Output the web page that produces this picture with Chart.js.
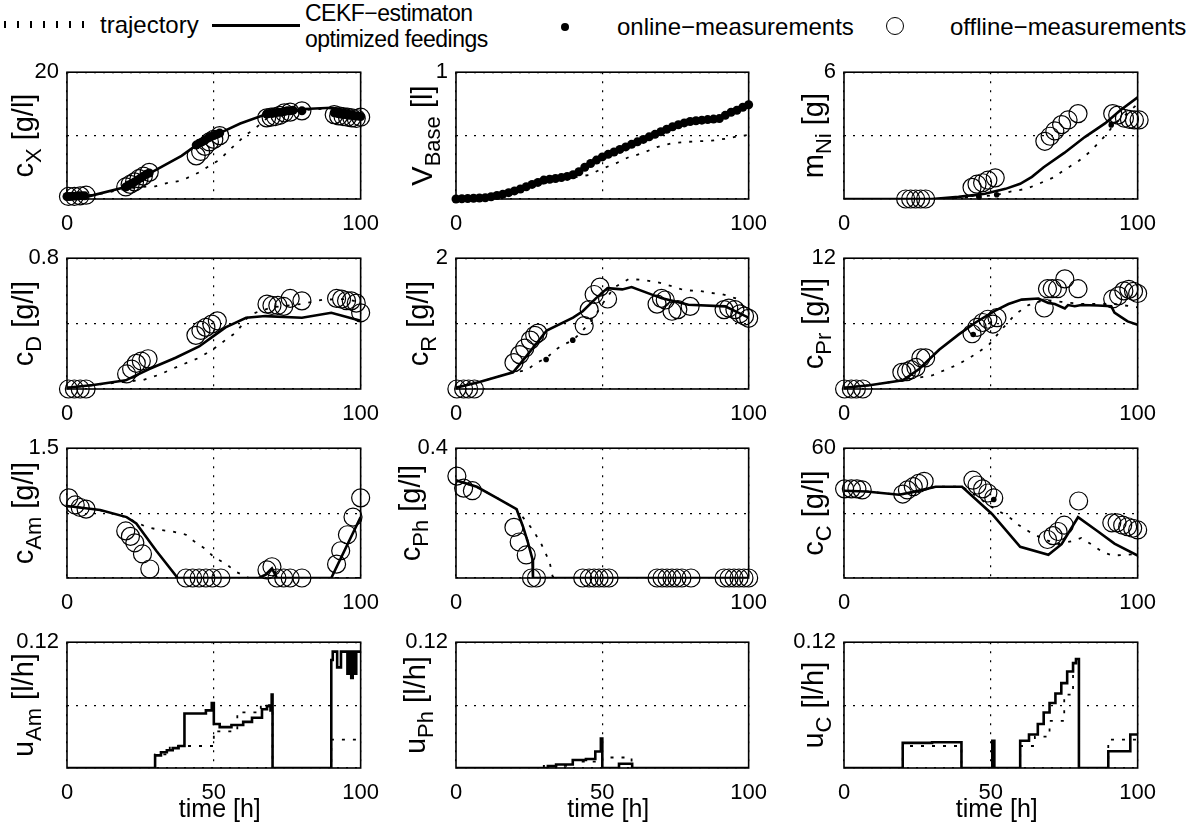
<!DOCTYPE html>
<html lang="en">
<head>
<meta charset="UTF-8">
<title>CEKF estimation and optimized feedings</title>
<script src="https://cdn.jsdelivr.net/npm/chart.js"></script>
<style>
    body { margin: 0; background: #fff; font-family: "Liberation Sans", Arial, sans-serif; }
    #fig { position: relative; width: 1204px; height: 826px; overflow: hidden; background: #fff; }
    .leg { position: absolute; font-size: 23px; line-height: 1; color: #000; white-space: nowrap; }
    canvas { position: absolute; }
</style>
</head>
<body>
<div id="fig">
    <div class="leg" style="left:4px;top:21px;width:86px;height:7px;background:repeating-linear-gradient(90deg,#000 0 2px,transparent 2px 13px)"></div>
    <div class="leg" style="left:100px;top:13px;font-size:24px">trajectory</div>
    <div class="leg" style="left:212px;top:24px;width:88px;height:3px;background:#000"></div>
    <div class="leg" style="left:305px;top:2px;letter-spacing:-0.5px">CEKF−estimaton</div>
    <div class="leg" style="left:305px;top:28px;letter-spacing:-0.5px">optimized feedings</div>
    <div class="leg" style="left:561px;top:23px;width:8px;height:8px;border-radius:50%;background:#000"></div>
    <div class="leg" style="left:617px;top:15px;font-size:24px">online−measurements</div>
    <div class="leg" style="left:886px;top:17px;width:16px;height:16px;border-radius:50%;border:1.3px solid #000"></div>
    <div class="leg" style="left:950px;top:15px;font-size:24px">offline−measurements</div>
</div>

<script>
    const FONT = '"Liberation Sans", Arial, sans-serif';

    // ---- data: [time h, value] ----
    const cxTraj = [[0,0.4],[10,0.7],[20,1.6],[25,1.9],[30,2.0],[34,2.5],[39,2.9],[45,4.2],[48,5.1],[52,6.2],[55,7.6],[58.6,9.1],[60,9.8],[64,11.1],[68,12.7],[72,13.3],[80,14.0],[90,14.3],[100,13.6]];
    const cxEst = [[0,0.4],[8,0.5],[20,1.9],[30,4.5],[39,6.8],[45,8.8],[52,10.4],[59,11.9],[68,13.4],[75,13.9],[81,14.2],[90,14.4],[95,14.0],[100,13.4]];
    const cxOnline = [[0,0.4],[1,0.4],[2,0.45],[3,0.45],[4,0.5],[5,0.5],[6,0.5],
        [20,1.9],[21,2.2],[22,2.4],[23,2.7],[24,3.0],[25,3.3],[26,3.6],[27,3.9],[28,4.1],
        [44,8.5],[45,8.8],[46,9.0],[47,9.3],[48,9.6],[49,9.8],[50,10.0],[51,10.2],[52,10.4],
        [68,13.4],[69,13.5],[70,13.5],[71,13.6],[72,13.7],[73,13.7],[74,13.8],[75,13.9],[76,13.9],[77,14.0],[80,13.9],
        [91,13.6],[92,13.5],[93,13.4],[94,13.3],[95,13.3],[96,13.2],[97,13.2],[98,13.1],[99,13.1],[100,13.0]];
    const cxOffline = [[0.5,0.4],[2.5,0.4],[4.5,0.5],[6.5,0.6],[20,1.9],[21.5,2.3],[23,2.7],[24.5,3.2],[26,3.6],[28,4.2],
        [44,6.8],[45.5,7.5],[47,8.3],[48.5,9.0],[50,9.4],[52,10.0],[68,12.8],[69.5,12.9],[71,13.0],[72.5,13.2],[74,13.6],[76,13.7],[80,13.9],
        [91,13.3],[92.5,13.1],[94,13.0],[95.5,12.9],[97,12.8],[98.5,12.7],[100,12.9]];

    const vbTraj = [[0,0],[10,0.01],[20,0.06],[26,0.10],[31,0.13],[35,0.15],[40,0.17],[45.5,0.19],[50,0.24],[54.6,0.28],[59,0.33],[63.6,0.36],[68.7,0.41],[73.8,0.44],[78.3,0.45],[82.8,0.455],[87.3,0.46],[92,0.475],[96.4,0.495],[100,0.505]];
    const vbOnline = [[0,0],[2,0.002],[4,0.004],[6,0.006],[8,0.008],[10,0.01],[12,0.018],[14,0.028],[16,0.038],[18,0.05],
        [20,0.064],[22,0.079],[24,0.097],[26,0.115],[28,0.131],[30,0.149],[32,0.156],[34,0.162],[36,0.169],[38,0.178],
        [40,0.191],[42,0.215],[44,0.25],[46,0.28],[48,0.307],[50,0.332],[52,0.352],[54,0.371],[56,0.391],[58,0.411],
        [60,0.431],[62,0.451],[64,0.47],[66,0.49],[68,0.51],[70,0.53],[72,0.55],[74,0.57],[76,0.586],[78,0.6],
        [80,0.611],[82,0.617],[84,0.622],[86,0.626],[88,0.63],[90,0.634],[92,0.66],[94,0.684],[96,0.70],[98,0.724],[100,0.743]];

    const niTraj = [[0,0],[30,0],[40,0.05],[46,0.12],[51.5,0.18],[57,0.36],[62,0.48],[66,0.7],[71,1.0],[75,1.37],[80,1.81],[84,2.26],[89,3.0],[92,3.52],[96,4.0],[100,4.5]];
    const niEst = [[0,0],[30,0],[39,0.1],[48,0.25],[55,0.48],[60,0.72],[64,1.05],[68,1.5],[75,2.18],[82,2.93],[89,3.59],[94,4.19],[100,4.81]];
    const niOnline = [[46,0.1],[52,0.2],[91,3.5]];
    const niOffline = [[21,0],[22.7,0],[24.4,0],[26.1,0],[27.8,0],[43.6,0.55],[45.3,0.7],[47.2,0.77],[49,0.89],[51.5,1.0],
        [68.4,2.73],[70.2,2.97],[71.8,3.22],[74.1,3.52],[76.3,3.74],[79.7,4.04],[91.5,4.04],[93.2,3.97],[95.5,3.82],[97.2,3.77],[98.9,3.74],[100.5,3.74]];

    const cdTraj = [[0,0.008],[9,0.024],[20,0.045],[26,0.055],[31.5,0.088],[38.3,0.142],[45,0.191],[49.5,0.24],[54,0.3],[57.4,0.344],[60,0.4],[62,0.45],[65,0.472],[70,0.5],[80,0.52],[87,0.546],[95,0.55],[100,0.53]];
    const cdEst = [[0,0.008],[9,0.024],[20,0.053],[28,0.122],[37,0.191],[45,0.26],[49.5,0.319],[54,0.377],[61,0.436],[67.6,0.446],[80,0.436],[90,0.466],[100,0.417]];
    const cdOffline = [[0.5,0],[2.5,0],[4.5,0],[6.5,0],[20.3,0.092],[22,0.122],[23.6,0.157],[25.3,0.171],[27.6,0.185],
        [43.9,0.328],[45.6,0.358],[47.3,0.377],[49.3,0.397],[51.2,0.417],[68.1,0.519],[69.8,0.511],[71.8,0.511],[73.8,0.505],[76,0.554],[80,0.539],
        [91.8,0.554],[93.5,0.55],[95.2,0.54],[96.8,0.539],[98.5,0.525],[100,0.466]];

    const crTraj = [[0,0.02],[8,0.108],[19.5,0.256],[24,0.285],[27.5,0.4],[31,0.477],[34,0.6],[36.5,0.673],[40,0.747],[43.3,0.894],[47.2,1.091],[50,1.3],[54,1.55],[59,1.68],[63.6,1.67],[69,1.63],[74,1.57],[78,1.51],[83,1.5],[87,1.47],[91,1.45],[96,1.38],[100,1.165]];
    const crEst = [[0,0.02],[8,0.108],[19.5,0.256],[24,0.5],[31,0.894],[40,1.091],[43.3,1.189],[47.8,1.386],[51.8,1.543],[56.8,1.523],[60,1.558],[70.4,1.386],[79.4,1.287],[92,1.263],[100,1.091]];
    const crOnline = [[30.8,0.452],[39.9,0.747]];
    const crOffline = [[0.3,0],[2.6,0],[4.3,0],[6.3,0],[19.8,0.403],[21.8,0.526],[23.5,0.624],[25.4,0.747],[26.9,0.821],[28,0.855],
        [43.8,0.968],[45.5,1.214],[47.2,1.445],[49.2,1.558],[51.8,1.376],[68.7,1.297],[70.2,1.386],[71.5,1.361],[73.8,1.189],[75.8,1.214],[80,1.263],
        [91.6,1.214],[93.2,1.238],[95.3,1.214],[97,1.15],[98.6,1.115],[100,1.081]];

    const cpTraj = [[0,0.12],[8.7,0.35],[20,0.8],[30,1.24],[34.6,1.77],[39,2.27],[43.6,3.0],[49.3,4.04],[53.8,5.5],[58.3,6.84],[62.8,7.7],[68.4,8.17],[74,8.0],[80.8,7.8],[92,7.8],[100,7.5]];
    const cpEst = [[0,0.12],[8.7,0.35],[20,0.8],[25.6,1.83],[32.4,3.6],[39.1,5.01],[44.8,6.1],[51.5,7.2],[56,7.8],[60.5,8.2],[66.2,8.3],[69.6,7.9],[71.8,7.8],[75.2,7.4],[76.3,7.7],[78.6,7.6],[80.8,7.7],[86.5,7.66],[91,7.6],[92.1,7.0],[94.4,6.6],[96.6,6.2],[100,5.9]];
    const cpOnline = [[44,5.0]];
    const cpOffline = [[0.2,0],[2.5,0],[4.2,0],[6.4,0],[19.7,1.53],[21.3,1.59],[22.8,1.77],[24.5,1.98],[26.2,2.86],[27.8,2.86],
        [43.6,5.07],[45.3,5.66],[47.2,6.1],[49,6.4],[50.7,5.96],[52.1,6.54],[68.2,7.43],[69.3,9.2],[70.9,9.2],[72.7,9.2],[75.2,10.1],[79.7,9.2],
        [91.5,8.26],[93.5,8.55],[95.3,9.0],[97,9.14],[98.6,8.96],[100,8.76]];

    const caTraj = [[0,0.833],[11,0.785],[20,0.704],[27,0.59],[31.5,0.556],[36,0.537],[40.5,0.5],[43.9,0.407],[47.3,0.333],[50,0.241],[54,0.167],[57.4,0.074],[60.8,0.02],[62,0],[100,0]];
    const caEst = [[0,0.833],[11.3,0.785],[20.3,0.704],[23.6,0.63],[30.4,0.315],[37.7,0],[65.3,0],[67.6,0.037],[69.8,0.111],[71.5,0],[90,0],[100,0.704]];
    const caOffline = [[0.6,0.926],[2.8,0.844],[4.5,0.815],[6.5,0.796],[20,0.544],[21.6,0.481],[23.1,0.407],[25.7,0.278],[28.2,0.104],
        [40.5,0],[42.8,0],[45,0],[47.3,0],[49.5,0],[52.4,0],[68.1,0.093],[69.8,0.13],[71.5,0],[73.8,0],[76,0],[80,0],
        [91.8,0.16],[93.2,0.315],[95.5,0.5],[97.4,0.704],[100,0.926]];

    const cphTraj = [[0,0.301],[7,0.281],[14,0.247],[20.7,0.212],[26.3,0.148],[29.2,0.104],[32,0.049],[33,0.005],[34,0],[100,0]];
    const cphEst = [[0,0.301],[7.1,0.281],[13.9,0.247],[20.7,0.212],[22.9,0.158],[24.6,0.109],[26.1,0.059],[26.3,0],[100,0]];
    const cphOffline = [[0.3,0.314],[2.6,0.277],[5.6,0.269],[19.8,0.156],[21.6,0.111],[24,0.071],[25.8,0],[27.5,0],
        [43.3,0],[45.5,0],[47.2,0],[48.9,0],[50.6,0],[52.3,0],[68.7,0],[70.4,0],[72.1,0],[73.8,0],[75.5,0],[77.2,0],[80.3,0],
        [91.6,0],[93.3,0],[95,0],[96.7,0],[98.4,0],[100,0]];

    const ccTraj = [[0,40.3],[7.6,40],[18.8,38.5],[23.3,39.7],[31.2,42.2],[40.2,42.2],[45,38],[50,33],[56.3,28.1],[59.6,24.4],[63.9,20.7],[68,18],[72.9,15.6],[77.5,17],[80.8,18.5],[84.2,15.6],[88.2,11.9],[91.5,10.4],[96,10.7],[100,11.1]];
    const ccEst = [[0,40.3],[7.6,40],[18.8,38.5],[23.3,39.7],[31.2,42.2],[40.2,42.2],[50.4,29.6],[60,14.4],[69.6,10.7],[74.1,15.6],[79.7,28.1],[86.5,21.5],[92.1,15.9],[100,10.4]];
    const ccOnline = [[51,36.3]];
    const ccOffline = [[0.2,41.2],[2.5,41.2],[4.4,41.2],[6.2,40.7],[20,38.8],[21.6,40.7],[23.6,42.2],[25.4,43.7],[27.3,44.7],
        [43.9,45.2],[45.3,43],[47.2,41.2],[49,39.3],[51,37],[69.3,17.8],[71.2,19.6],[72.9,21.5],[75,24.4],[79.9,35.6],
        [91.2,25.5],[93,25.5],[94.9,24.4],[96.6,23.7],[98.3,23],[100,22.2]];

    // feedings, held constant until the next point
    const uAmTraj = [[0,0],[30,0.013],[35,0.021],[50,0.035],[58,0.053],[66,0.06],[70,0],[90,0.027],[100,0.027]];
    const uAmEst = [[0,0],[30,0.012],[32,0.015],[34,0.017],[36,0.019],[38,0.021],[40,0.052],[47.3,0.055],[49.3,0.062],[50,0.042],
        [52,0.039],[56,0.041],[60,0.044],[63,0.048],[66.4,0.056],[68.1,0.059],[69.3,0.055],[69.7,0.07],[70,0],
        [90,0.103],[90.5,0.111],[92,0.096],[93.3,0.111],[95.5,0.09],[96,0.111],[96.8,0.086],[97.3,0.111],[98,0.09],[98.5,0.111],[100,0.111]];
    const uPhTraj = [[0,0],[30,0.002],[40,0.006],[50,0.01],[60,0],[100,0]];
    const uPhEst = [[0,0],[31.4,0.0018],[34.2,0.0034],[39.9,0.0077],[44.4,0.0086],[47.6,0.0157],[49.5,0.028],[50,0],[55.7,0.004],[60.2,0],[100,0]];
    const uCTraj = [[0,0],[20,0.021],[40,0],[60,0.021],[65,0.03],[70,0.045],[75,0.07],[78,0.09],[80,0],[90,0.027],[100,0.027]];
    const uCEst = [[0,0],[20,0.024],[30,0.0245],[40,0],[50.5,0.026],[51.2,0],[60,0.026],[63,0.032],[66,0.042],[68,0.053],[70,0.062],
        [72,0.071],[74,0.081],[76,0.092],[78,0.1],[79,0.104],[80,0],[90,0.016],[97.5,0.032],[100,0.032]];

    // ---- layout of the 4x3 grid (page pixels) ----
    const colL = [67, 456, 844], colR = [363, 751, 1140];
    const rowT = [67, 253, 443, 637], rowB = [199, 389, 578, 768];
    const canvasL = [0, 398, 788];

    const panels = [
        {row:0, col:0, ymax:20,   top:'20',   lab:['c','X',' [g/l]'],    labX:33,  traj:cxTraj, est:cxEst, on:cxOnline, off:cxOffline, dot:4.5},
        {row:0, col:1, ymax:1,    top:'1',    lab:['V','Base',' [l]'],   labX:432, traj:vbTraj, on:vbOnline, dot:4.5},
        {row:0, col:2, ymax:6,    top:'6',    lab:['m','Ni',' [g]'],     labX:823, traj:niTraj, est:niEst, on:niOnline, off:niOffline},
        {row:1, col:0, ymax:0.8,  top:'0.8',  lab:['c','D',' [g/l]'],    labX:33,  traj:cdTraj, est:cdEst, off:cdOffline},
        {row:1, col:1, ymax:2,    top:'2',    lab:['c','R',' [g/l]'],    labX:428, traj:crTraj, est:crEst, on:crOnline, off:crOffline},
        {row:1, col:2, ymax:12,   top:'12',   lab:['c','Pr',' [g/l]'],   labX:823, traj:cpTraj, est:cpEst, on:cpOnline, off:cpOffline},
        {row:2, col:0, ymax:1.5,  top:'1.5',  lab:['c','Am',' [g/l]'],   labX:33,  traj:caTraj, est:caEst, off:caOffline},
        {row:2, col:1, ymax:0.4,  top:'0.4',  lab:['c','Ph',' [g/l]'],   labX:420, traj:cphTraj, est:cphEst, off:cphOffline},
        {row:2, col:2, ymax:60,   top:'60',   lab:['c','C',' [g/l]'],    labX:823, traj:ccTraj, est:ccEst, on:ccOnline, off:ccOffline},
        {row:3, col:0, ymax:0.12, top:'0.12', lab:['u','Am',' [l/h]'],   labX:33,  traj:uAmTraj, est:uAmEst, step:true},
        {row:3, col:1, ymax:0.12, top:'0.12', lab:['u','Ph',' [l/h]'],   labX:425, traj:uPhTraj, est:uPhEst, step:true},
        {row:3, col:2, ymax:0.12, top:'0.12', lab:['u','C',' [l/h]'],    labX:823, traj:uCTraj, est:uCEst, step:true}
    ];

    // box round the plot area, rotated y label with subscript, x label on the last row
    const framePlugin = {
        id: 'frame',
        afterDraw(chart, args, o) {
            const ctx = chart.ctx, a = chart.chartArea;
            ctx.save();
            ctx.strokeStyle = '#000';
            ctx.lineWidth = 1.6;
            ctx.strokeRect(a.left, a.top, a.right - a.left, a.bottom - a.top);

            ctx.fillStyle = '#000';
            ctx.textAlign = 'left';
            ctx.textBaseline = 'alphabetic';
            const big = '29px ' + FONT, small = '22px ' + FONT;
            ctx.font = big;
            const mw = ctx.measureText(o.lab[0]).width, uw = ctx.measureText(o.lab[2]).width;
            ctx.font = small;
            const sw = ctx.measureText(o.lab[1]).width;
            ctx.translate(o.labX, (a.top + a.bottom) / 2);
            ctx.rotate(-Math.PI / 2);
            let x = -(mw + sw + uw) / 2;
            ctx.font = big; ctx.fillText(o.lab[0], x, 0); x += mw;
            ctx.font = small; ctx.fillText(o.lab[1], x, 8); x += sw;
            ctx.font = big; ctx.fillText(o.lab[2], x, 0);
            ctx.restore();

            if (o.xtitle) {
                ctx.save();
                ctx.fillStyle = '#000';
                ctx.font = '25px ' + FONT;
                ctx.textAlign = 'center';
                ctx.textBaseline = 'middle';
                ctx.fillText(o.xtitle, (a.left + a.right) / 2 + 6, a.bottom + 42);
                ctx.restore();
            }
        }
    };

    function buildSets(p) {
        const sets = [];
        if (p.traj) sets.push({data: p.traj, borderColor: '#000', borderWidth: 1.8, borderDash: [3, 8],
            pointRadius: 0, stepped: p.step ? 'before' : false, tension: 0});
        if (p.est) sets.push({data: p.est, borderColor: '#000', borderWidth: 2.6,
            pointRadius: 0, stepped: p.step ? 'before' : false, tension: 0});
        if (p.on) sets.push({data: p.on, showLine: false, pointRadius: p.dot || 2.8, pointBackgroundColor: '#000',
            pointBorderColor: '#000', pointBorderWidth: 0, clip: false});
        if (p.off) sets.push({data: p.off, showLine: false, pointRadius: 9, pointBackgroundColor: 'rgba(0,0,0,0)',
            pointBorderColor: '#000', pointBorderWidth: 1.2, clip: false});
        return sets;
    }

    function makePanel(p) {
        const L = colL[p.col], R = colR[p.col], T = rowT[p.row], B = rowB[p.row];
        const left = canvasL[p.col];
        const yW = L - left, padTop = 16, padRight = 28;
        const xH = p.row === 3 ? 826 - B : 34;
        const cv = document.createElement('canvas');
        cv.width = yW + (R - L) + padRight;
        cv.height = padTop + (B - T) + xH;
        cv.style.left = left + 'px';
        cv.style.top = (T - padTop) + 'px';
        cv.style.width = cv.width + 'px';
        cv.style.height = cv.height + 'px';
        document.getElementById('fig').appendChild(cv);

        const tickFont = {size: 22, family: FONT};
        new Chart(cv.getContext('2d'), {
            type: 'line',
            data: {datasets: buildSets(p)},
            options: {
                responsive: false,
                animation: false,
                devicePixelRatio: 1,
                events: [],
                layout: {padding: {top: padTop, right: padRight, left: 0, bottom: 0}},
                plugins: {
                    legend: {display: false},
                    tooltip: {enabled: false},
                    frame: {lab: p.lab, labX: p.labX - left, xtitle: p.row === 3 ? 'time [h]' : null}
                },
                scales: {
                    x: {
                        type: 'linear', min: 0, max: 100,
                        ticks: {stepSize: 50, padding: 12, color: '#000', font: tickFont, maxRotation: 0,
                            callback: v => (p.row === 3 || v !== 50) ? String(v) : ''},
                        grid: {color: '#000', lineWidth: 1.2, drawTicks: false},
                        border: {display: false, dash: [2, 7]},
                        afterFit: s => { s.height = xH; }
                    },
                    y: {
                        type: 'linear', min: 0, max: p.ymax,
                        ticks: {stepSize: p.ymax / 2, padding: 8, color: '#000', font: tickFont,
                            callback: (v, i, t) => i === t.length - 1 ? p.top : ''},
                        grid: {color: '#000', lineWidth: 1.2, drawTicks: false},
                        border: {display: false, dash: [2, 7]},
                        afterFit: s => { s.width = yW; }
                    }
                }
            },
            plugins: [framePlugin]
        });
    }

    panels.forEach(makePanel);
</script>
</body>
</html>
